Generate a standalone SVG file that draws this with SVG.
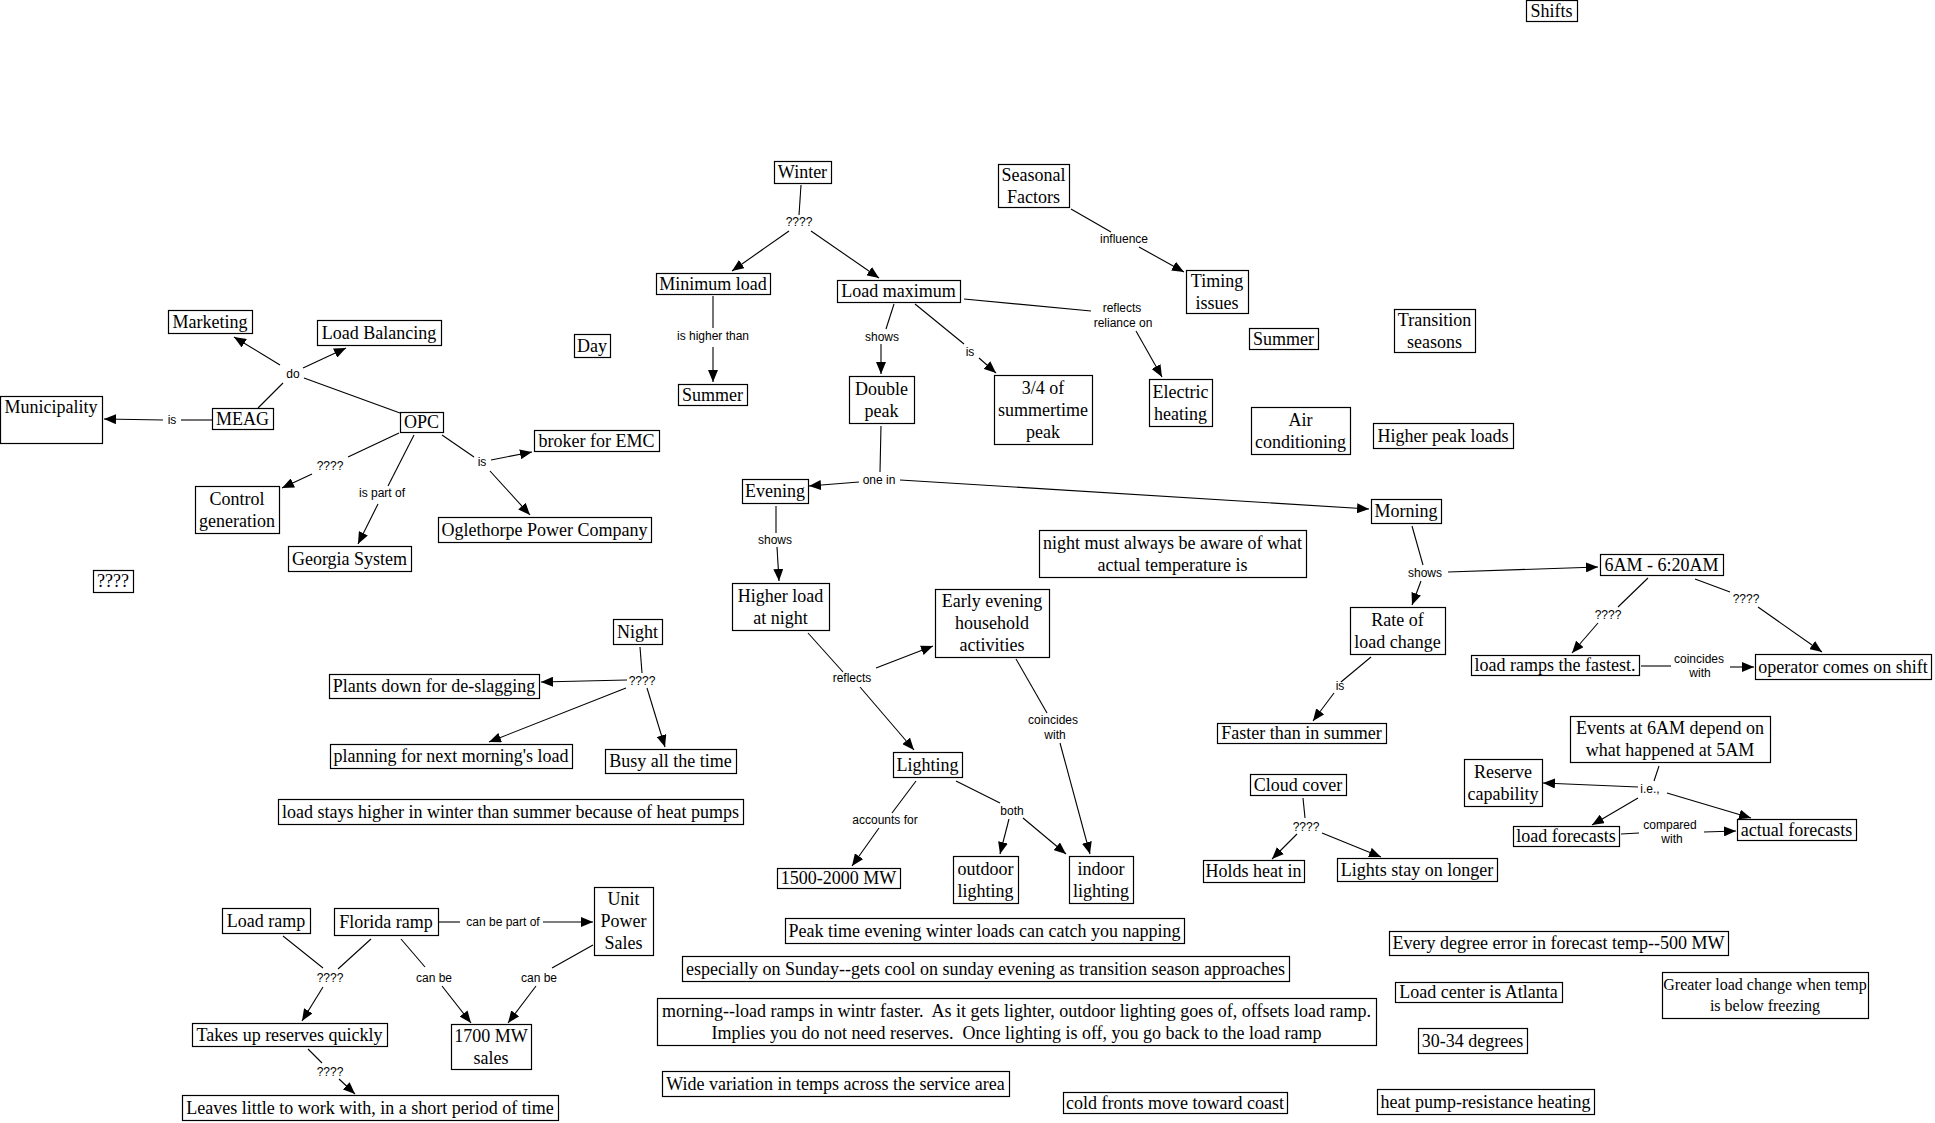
<svg xmlns="http://www.w3.org/2000/svg" width="1935" height="1123" viewBox="0 0 1935 1123">
<style>
.n rect{fill:#fff;stroke:#000;stroke-width:1.2}
.n text{font-family:"Liberation Serif","Times New Roman",serif;font-size:18px;text-anchor:middle;fill:#000}
.n text.s{font-size:16px}
.c line{stroke:#000;stroke-width:1.1}
.c line.a{marker-end:url(#ah)}
.c text{font-family:"Liberation Sans",Arial,sans-serif;font-size:12px;text-anchor:middle;fill:#000}
</style>
<defs>
<marker id="ah" viewBox="0 0 12 10" refX="12" refY="5" markerWidth="12" markerHeight="10" markerUnits="userSpaceOnUse" orient="auto"><path d="M0,0 L12,5 L0,10 z" fill="#000"/></marker>
</defs>
<rect width="1935" height="1123" fill="#fff"/>
<g class="c" id="connectors">
<line x1="258" y1="408" x2="283" y2="383"/>
<line x1="400" y1="413" x2="304" y2="378"/>
<line class="a" x1="280" y1="365" x2="234" y2="337"/>
<line class="a" x1="303" y1="368" x2="346" y2="348"/>
<text x="293" y="378">do</text>
<line x1="212" y1="420" x2="181" y2="420"/>
<text x="172" y="424">is</text>
<line class="a" x1="163" y1="420" x2="104" y2="419"/>
<line x1="399" y1="433" x2="348" y2="457"/>
<text x="330" y="470">????</text>
<line class="a" x1="312" y1="474" x2="282" y2="488"/>
<line x1="414" y1="435" x2="388" y2="486"/>
<text x="382" y="497">is part of</text>
<line class="a" x1="378" y1="504" x2="358" y2="544"/>
<line x1="442" y1="435" x2="474" y2="457"/>
<text x="482" y="466">is</text>
<line class="a" x1="491" y1="460" x2="532" y2="452"/>
<line class="a" x1="490" y1="471" x2="530" y2="515"/>
<line x1="801" y1="185" x2="799" y2="215"/>
<text x="799" y="226">????</text>
<line class="a" x1="789" y1="231" x2="732" y2="271"/>
<line class="a" x1="811" y1="231" x2="879" y2="278"/>
<line x1="713" y1="296" x2="713" y2="328"/>
<text x="713" y="340">is higher than</text>
<line class="a" x1="713" y1="347" x2="713" y2="382"/>
<line x1="894" y1="304" x2="886" y2="329"/>
<text x="882" y="341">shows</text>
<line class="a" x1="881" y1="344" x2="881" y2="374"/>
<line x1="915" y1="304" x2="964" y2="344"/>
<text x="970" y="356">is</text>
<line class="a" x1="979" y1="358" x2="996" y2="373"/>
<line x1="964" y1="299" x2="1091" y2="311"/>
<text x="1122" y="312">reflects</text>
<text x="1123" y="327">reliance on</text>
<line class="a" x1="1136" y1="331" x2="1162" y2="377"/>
<line x1="1071" y1="209" x2="1111" y2="232"/>
<text x="1124" y="243">influence</text>
<line class="a" x1="1139" y1="247" x2="1184" y2="272"/>
<line x1="881" y1="426" x2="880" y2="472"/>
<text x="879" y="484">one in</text>
<line class="a" x1="859" y1="482" x2="809" y2="486"/>
<line class="a" x1="900" y1="480" x2="1369" y2="509"/>
<line x1="776" y1="506" x2="776" y2="533"/>
<text x="775" y="544">shows</text>
<line class="a" x1="777" y1="547" x2="779" y2="581"/>
<line x1="808" y1="633" x2="843" y2="672"/>
<text x="852" y="682">reflects</text>
<line class="a" x1="876" y1="668" x2="933" y2="646"/>
<line class="a" x1="860" y1="687" x2="914" y2="750"/>
<line x1="1016" y1="659" x2="1047" y2="713"/>
<text x="1053" y="724">coincides</text>
<text x="1055" y="739">with</text>
<line class="a" x1="1060" y1="743" x2="1090" y2="854"/>
<line x1="916" y1="781" x2="892" y2="813"/>
<text x="885" y="824">accounts for</text>
<line class="a" x1="879" y1="828" x2="852" y2="866"/>
<line x1="956" y1="781" x2="1000" y2="803"/>
<text x="1012" y="815">both</text>
<line class="a" x1="1009" y1="819" x2="1000" y2="854"/>
<line class="a" x1="1023" y1="818" x2="1066" y2="854"/>
<line x1="640" y1="647" x2="642" y2="673"/>
<text x="642" y="685">????</text>
<line class="a" x1="627" y1="680" x2="541" y2="682"/>
<line class="a" x1="626" y1="688" x2="489" y2="742"/>
<line class="a" x1="647" y1="688" x2="665" y2="747"/>
<line x1="1412" y1="526" x2="1423" y2="565"/>
<text x="1425" y="577">shows</text>
<line class="a" x1="1448" y1="572" x2="1598" y2="567"/>
<line class="a" x1="1421" y1="581" x2="1412" y2="605"/>
<line x1="1371" y1="657" x2="1341" y2="682"/>
<text x="1340" y="690">is</text>
<line class="a" x1="1334" y1="693" x2="1313" y2="721"/>
<line x1="1648" y1="578" x2="1618" y2="607"/>
<text x="1608" y="619">????</text>
<line class="a" x1="1598" y1="623" x2="1572" y2="653"/>
<line x1="1695" y1="579" x2="1730" y2="592"/>
<text x="1746" y="603">????</text>
<line class="a" x1="1758" y1="607" x2="1822" y2="652"/>
<line x1="1641" y1="666" x2="1671" y2="666"/>
<text x="1699" y="663">coincides</text>
<text x="1700" y="677">with</text>
<line class="a" x1="1730" y1="667" x2="1754" y2="667"/>
<line x1="1659" y1="766" x2="1654" y2="781"/>
<text x="1650" y="793">i.e.,</text>
<line class="a" x1="1638" y1="787" x2="1543" y2="783"/>
<line class="a" x1="1638" y1="798" x2="1592" y2="825"/>
<line class="a" x1="1667" y1="793" x2="1751" y2="818"/>
<line x1="1621" y1="834" x2="1639" y2="833"/>
<text x="1670" y="829">compared</text>
<text x="1672" y="843">with</text>
<line class="a" x1="1704" y1="832" x2="1736" y2="831"/>
<line x1="1303" y1="798" x2="1305" y2="818"/>
<text x="1306" y="831">????</text>
<line class="a" x1="1297" y1="834" x2="1272" y2="859"/>
<line class="a" x1="1322" y1="833" x2="1381" y2="857"/>
<line x1="283" y1="936" x2="323" y2="968"/>
<line x1="371" y1="939" x2="338" y2="969"/>
<text x="330" y="982">????</text>
<line class="a" x1="323" y1="987" x2="302" y2="1021"/>
<line x1="401" y1="939" x2="425" y2="967"/>
<text x="434" y="982">can be</text>
<line class="a" x1="442" y1="986" x2="471" y2="1023"/>
<line x1="593" y1="945" x2="552" y2="968"/>
<text x="539" y="982">can be</text>
<line class="a" x1="536" y1="986" x2="508" y2="1023"/>
<line x1="439" y1="922" x2="460" y2="922"/>
<text x="503" y="926">can be part of</text>
<line class="a" x1="543" y1="922" x2="593" y2="922"/>
<line x1="308" y1="1049" x2="322" y2="1063"/>
<text x="330" y="1076">????</text>
<line class="a" x1="339" y1="1079" x2="355" y2="1094"/>
</g>
<g class="n" id="n-shifts"><rect x="1526.5" y="0.5" width="51" height="21"/><text x="1551.5" y="17">Shifts</text></g>
<g class="n" id="n-winter"><rect x="774.5" y="161.5" width="57" height="22"/><text x="802.5" y="178">Winter</text></g>
<g class="n" id="n-seasonal"><rect x="998.5" y="164.5" width="71" height="43"/><text x="1033.5" y="180.5">Seasonal</text><text x="1033.5" y="202.5">Factors</text></g>
<g class="n" id="n-minload"><rect x="656.5" y="273.5" width="114" height="21"/><text x="713" y="289.5">Minimum load</text></g>
<g class="n" id="n-loadmax"><rect x="837.5" y="280.5" width="123" height="22"/><text x="898.5" y="297">Load maximum</text></g>
<g class="n" id="n-timing"><rect x="1186.5" y="270.5" width="62" height="43"/><text x="1217" y="286.5">Timing</text><text x="1217" y="308.5">issues</text></g>
<g class="n" id="n-marketing"><rect x="168.5" y="310.5" width="84" height="23"/><text x="210" y="327.5">Marketing</text></g>
<g class="n" id="n-loadbal"><rect x="317.5" y="320.5" width="124" height="25"/><text x="379" y="338.5">Load Balancing</text></g>
<g class="n" id="n-day"><rect x="574.5" y="334.5" width="36" height="23"/><text x="592" y="351.5">Day</text></g>
<g class="n" id="n-summer1"><rect x="678.5" y="384.5" width="69" height="21"/><text x="712.5" y="400.5">Summer</text></g>
<g class="n" id="n-summer2"><rect x="1249.5" y="328.5" width="69" height="21"/><text x="1283.5" y="344.5">Summer</text></g>
<g class="n" id="n-transition"><rect x="1394.5" y="309.5" width="81" height="43"/><text x="1434.5" y="325.5">Transition</text><text x="1434.5" y="347.5">seasons</text></g>
<g class="n" id="n-municipality"><rect x="0.5" y="396.5" width="102" height="47"/><text x="51" y="413">Municipality</text></g>
<g class="n" id="n-meag"><rect x="212.5" y="408.5" width="61" height="21"/><text x="242.5" y="424.5">MEAG</text></g>
<g class="n" id="n-opc"><rect x="400.5" y="412.5" width="43" height="20"/><text x="421.5" y="428">OPC</text></g>
<g class="n" id="n-doublepeak"><rect x="849.5" y="376.5" width="65" height="47"/><text x="881.5" y="394.5">Double</text><text x="881.5" y="416.5">peak</text></g>
<g class="n" id="n-34"><rect x="994.5" y="375.5" width="98" height="69"/><text x="1043" y="393.5">3/4 of</text><text x="1043" y="415.5">summertime</text><text x="1043" y="437.5">peak</text></g>
<g class="n" id="n-electric"><rect x="1149.5" y="379.5" width="63" height="47"/><text x="1180.5" y="397.5">Electric</text><text x="1180.5" y="419.5">heating</text></g>
<g class="n" id="n-aircon"><rect x="1251.5" y="407.5" width="99" height="47"/><text x="1300.5" y="425.5">Air</text><text x="1300.5" y="447.5">conditioning</text></g>
<g class="n" id="n-higherpeak"><rect x="1373.5" y="423.5" width="140" height="25"/><text x="1443" y="441.5">Higher peak loads</text></g>
<g class="n" id="n-broker"><rect x="534.5" y="430.5" width="125" height="21"/><text x="596.5" y="446.5">broker for EMC</text></g>
<g class="n" id="n-evening"><rect x="742.5" y="479.5" width="66" height="24"/><text x="775" y="497">Evening</text></g>
<g class="n" id="n-morning"><rect x="1371.5" y="499.5" width="70" height="24"/><text x="1406" y="517">Morning</text></g>
<g class="n" id="n-control"><rect x="195.5" y="486.5" width="84" height="47"/><text x="237" y="504.5">Control</text><text x="237" y="526.5">generation</text></g>
<g class="n" id="n-oglethorpe"><rect x="438.5" y="517.5" width="213" height="25"/><text x="544.5" y="535.5">Oglethorpe Power Company</text></g>
<g class="n" id="n-nightaware"><rect x="1039.5" y="530.5" width="267" height="47"/><text x="1172.5" y="548.5">night must always be aware of what</text><text x="1172.5" y="570.5">actual temperature is</text></g>
<g class="n" id="n-georgia"><rect x="288.5" y="546.5" width="123" height="25"/><text x="349.5" y="564.5">Georgia System</text></g>
<g class="n" id="n-6am"><rect x="1600.5" y="554.5" width="123" height="21"/><text x="1661.5" y="570.5">6AM - 6:20AM</text></g>
<g class="n" id="n-q"><rect x="93.5" y="570.5" width="40" height="22"/><text x="113" y="587">????</text></g>
<g class="n" id="n-higherload"><rect x="732.5" y="583.5" width="97" height="47"/><text x="780.5" y="601.5">Higher load</text><text x="780.5" y="623.5">at night</text></g>
<g class="n" id="n-early"><rect x="935.5" y="589.5" width="114" height="68"/><text x="992" y="607">Early evening</text><text x="992" y="629">household</text><text x="992" y="651">activities</text></g>
<g class="n" id="n-rate"><rect x="1350.5" y="607.5" width="95" height="47"/><text x="1397.5" y="625.5">Rate of</text><text x="1397.5" y="647.5">load change</text></g>
<g class="n" id="n-night"><rect x="613.5" y="619.5" width="49" height="25"/><text x="637.5" y="637.5">Night</text></g>
<g class="n" id="n-plants"><rect x="329.5" y="674.5" width="210" height="24"/><text x="434" y="692">Plants down for de-slagging</text></g>
<g class="n" id="n-ramps"><rect x="1471.5" y="655.5" width="168" height="20"/><text x="1555" y="671">load ramps the fastest.</text></g>
<g class="n" id="n-operator"><rect x="1755.5" y="654.5" width="176" height="25"/><text x="1843" y="672.5">operator comes on shift</text></g>
<g class="n" id="n-faster"><rect x="1217.5" y="723.5" width="169" height="20"/><text x="1301.5" y="739">Faster than in summer</text></g>
<g class="n" id="n-events"><rect x="1570.5" y="716.5" width="200" height="46"/><text x="1670" y="734">Events at 6AM depend on</text><text x="1670" y="756">what happened at 5AM</text></g>
<g class="n" id="n-planning"><rect x="330.5" y="744.5" width="242" height="24"/><text x="451" y="762">planning for next morning's load</text></g>
<g class="n" id="n-busy"><rect x="605.5" y="749.5" width="131" height="24"/><text x="670.5" y="767">Busy all the time</text></g>
<g class="n" id="n-lighting"><rect x="893.5" y="752.5" width="69" height="25"/><text x="927.5" y="770.5">Lighting</text></g>
<g class="n" id="n-reserve"><rect x="1464.5" y="759.5" width="78" height="47"/><text x="1503" y="777.5">Reserve</text><text x="1503" y="799.5">capability</text></g>
<g class="n" id="n-cloud"><rect x="1250.5" y="774.5" width="96" height="21"/><text x="1298" y="790.5">Cloud cover</text></g>
<g class="n" id="n-loadstays"><rect x="278.5" y="799.5" width="465" height="25"/><text x="510.5" y="817.5">load stays higher in winter than summer because of heat pumps</text></g>
<g class="n" id="n-loadfc"><rect x="1513.5" y="826.5" width="106" height="20"/><text x="1566" y="842">load forecasts</text></g>
<g class="n" id="n-actualfc"><rect x="1737.5" y="819.5" width="119" height="21"/><text x="1796.5" y="835.5">actual forecasts</text></g>
<g class="n" id="n-holds"><rect x="1203.5" y="860.5" width="101" height="22"/><text x="1253.5" y="877">Holds heat in</text></g>
<g class="n" id="n-lightsstay"><rect x="1337.5" y="858.5" width="160" height="23"/><text x="1417" y="875.5">Lights stay on longer</text></g>
<g class="n" id="n-outdoor"><rect x="953.5" y="856.5" width="65" height="47"/><text x="985.5" y="874.5">outdoor</text><text x="985.5" y="896.5">lighting</text></g>
<g class="n" id="n-indoor"><rect x="1069.5" y="856.5" width="64" height="47"/><text x="1101" y="874.5">indoor</text><text x="1101" y="896.5">lighting</text></g>
<g class="n" id="n-1500"><rect x="777.5" y="868.5" width="123" height="20"/><text x="838.5" y="884">1500-2000 MW</text></g>
<g class="n" id="n-unit"><rect x="594.5" y="887.5" width="59" height="68"/><text x="623.5" y="905">Unit</text><text x="623.5" y="927">Power</text><text x="623.5" y="949">Sales</text></g>
<g class="n" id="n-loadramp"><rect x="222.5" y="908.5" width="88" height="25"/><text x="266" y="926.5">Load ramp</text></g>
<g class="n" id="n-florida"><rect x="334.5" y="908.5" width="104" height="27"/><text x="386" y="927.5">Florida ramp</text></g>
<g class="n" id="n-peaktime"><rect x="785.5" y="918.5" width="399" height="25"/><text x="984.5" y="936.5">Peak time evening winter loads can catch you napping</text></g>
<g class="n" id="n-everydeg"><rect x="1389.5" y="931.5" width="339" height="24"/><text x="1558.5" y="949">Every degree error in forecast temp--500 MW</text></g>
<g class="n" id="n-sunday"><rect x="682.5" y="956.5" width="607" height="25"/><text x="985.5" y="974.5">especially on Sunday--gets cool on sunday evening as transition season approaches</text></g>
<g class="n" id="n-greater"><rect x="1662.5" y="972.5" width="206" height="46"/><text class="s" x="1765" y="990">Greater load change when temp</text><text class="s" x="1765" y="1011">is below freezing</text></g>
<g class="n" id="n-atlanta"><rect x="1395.5" y="982.5" width="167" height="20"/><text x="1478.5" y="998">Load center is Atlanta</text></g>
<g class="n" id="n-morningtxt"><rect x="657.5" y="998.5" width="719" height="47"/><text x="1016.5" y="1016.5" xml:space="preserve">morning--load ramps in wintr faster.  As it gets lighter, outdoor lighting goes of, offsets load ramp.</text><text x="1016.5" y="1038.5" xml:space="preserve">Implies you do not need reserves.  Once lighting is off, you go back to the load ramp</text></g>
<g class="n" id="n-takesup"><rect x="192.5" y="1023.5" width="195" height="23"/><text x="289.5" y="1040.5">Takes up reserves quickly</text></g>
<g class="n" id="n-1700"><rect x="451.5" y="1024.5" width="80" height="45"/><text x="491" y="1041.5">1700 MW</text><text x="491" y="1063.5">sales</text></g>
<g class="n" id="n-3034"><rect x="1418.5" y="1028.5" width="109" height="25"/><text x="1472.5" y="1046.5">30-34 degrees</text></g>
<g class="n" id="n-wide"><rect x="662.5" y="1071.5" width="347" height="25"/><text x="835.5" y="1089.5">Wide variation in temps across the service area</text></g>
<g class="n" id="n-leaves"><rect x="182.5" y="1095.5" width="376" height="25"/><text x="370" y="1113.5">Leaves little to work with, in a short period of time</text></g>
<g class="n" id="n-coldfronts"><rect x="1063.5" y="1092.5" width="224" height="21"/><text x="1175" y="1108.5">cold fronts move toward coast</text></g>
<g class="n" id="n-heatpump"><rect x="1377.5" y="1089.5" width="217" height="25"/><text x="1485.5" y="1107.5">heat pump-resistance heating</text></g>
</svg>
